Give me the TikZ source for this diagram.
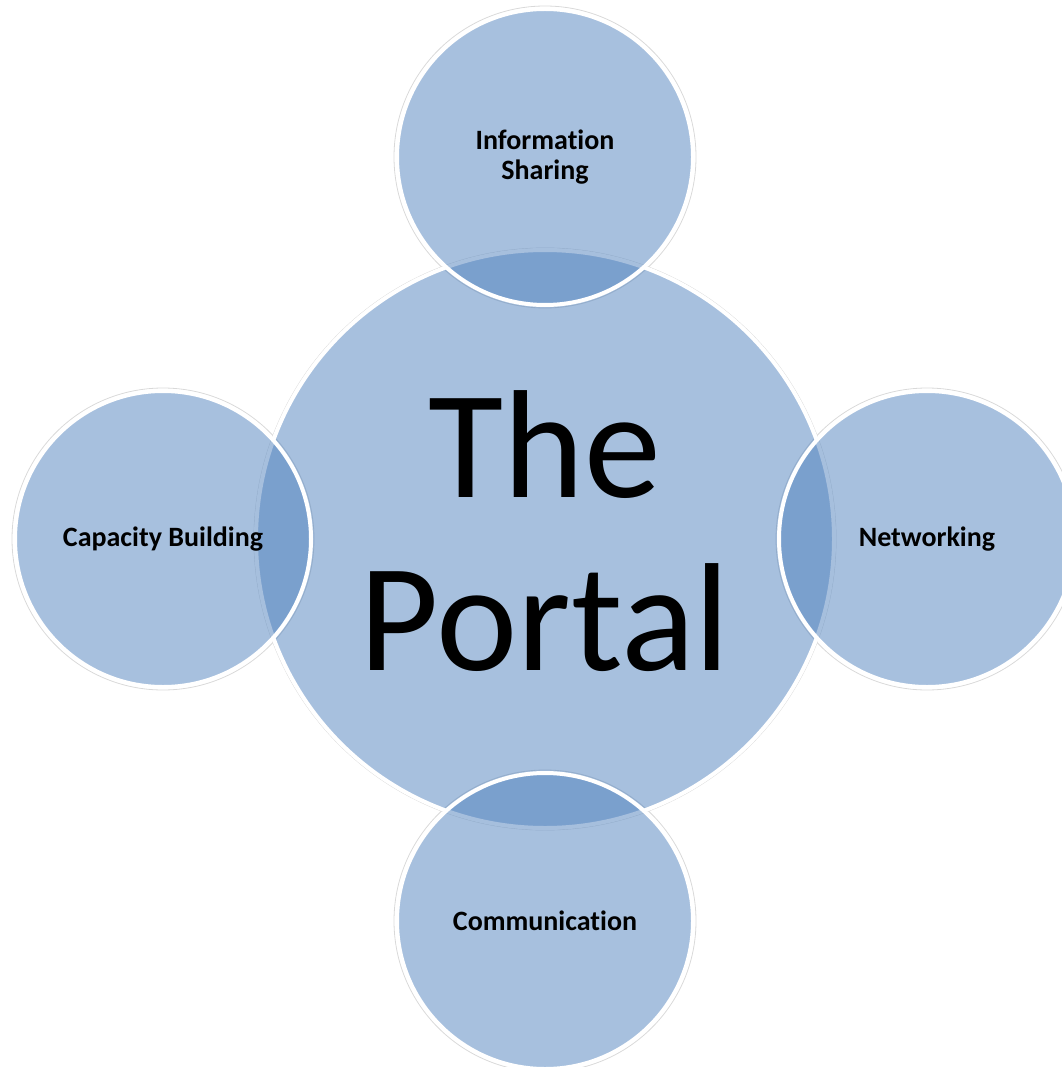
\documentclass[tikz,border=0pt]{standalone}
\usepackage{fontspec}
\setmainfont{Carlito}[Ligatures=NoCommon]
\definecolor{portalblue}{HTML}{4F81BD}

\tikzstyle{bubble}=[circle, fill=portalblue, fill opacity=0.5, text opacity=1, draw=white, line width=4pt, minimum size=296pt, inner sep=0pt, align=center, font=\bfseries\fontsize{28}{30}\selectfont]
\tikzstyle{hub}=[bubble, minimum size=578pt]
\tikzstyle{title}=[align=center, font=\fontsize{154}{173}\selectfont]
\tikzstyle{halo}=[draw=gray!30, line width=0.8pt]

\begin{document}
\begin{tikzpicture}[x=1pt, y=-1pt]
      \useasboundingbox (0,0) rectangle (1061,1067);

      % faint rims behind the circles
      \coordinate (c) at (545,539);
      \draw[halo] (c) circle[radius=291];
      \draw[halo] (545,157) circle[radius=151];
      \draw[halo] (163,539) circle[radius=151];
      \draw[halo] (927,539) circle[radius=151];
      \draw[halo] (545,921) circle[radius=151];

      \node[hub] (portal) at (c) {};
      \node[title] (name) at (545,531) {The\\Portal};
      \node[bubble] (info) at (545,157) {Information\\Sharing};
      \node[bubble] (capacity) at (163,539) {Capacity Building};
      \node[bubble] (network) at (927,539) {Networking};
      \node[bubble] (comm) at (545,921) {Communication};
    \end{tikzpicture}
\end{document}
